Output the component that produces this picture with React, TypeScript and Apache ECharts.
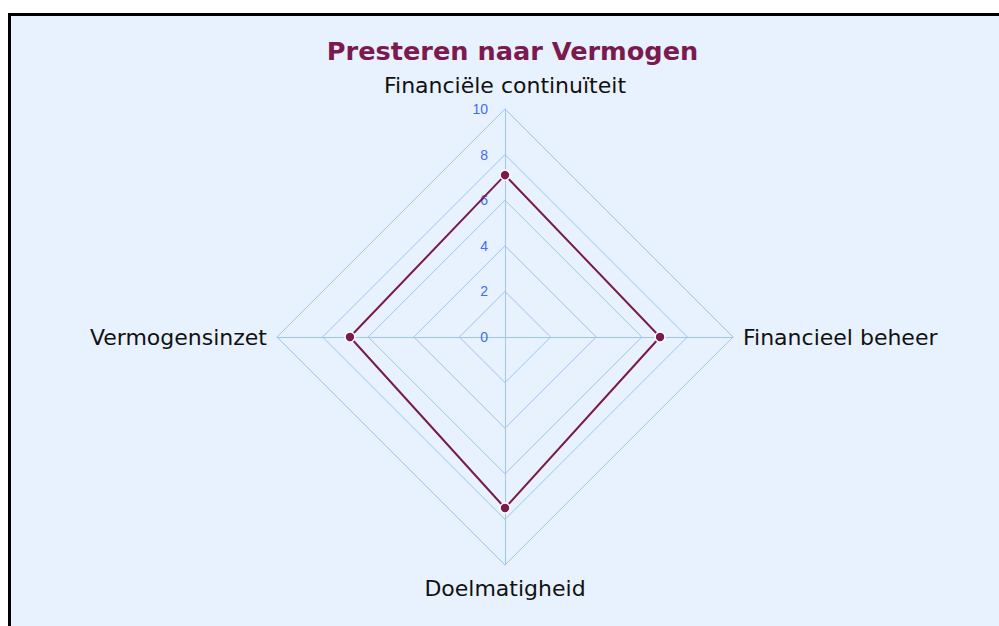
import React, { useEffect, useRef } from "react";
import * as echarts from "echarts";

const titleText = "Presteren naar Vermogen";
// Order: counter-clockwise from top (ECharts radar layout)
const indicatorNames = ["Financiële continuïteit", "Vermogensinzet", "Doelmatigheid", "Financieel beheer"];
const indicatorMax = [10, 10, 10, 10];
const seriesValues = [7.1, 6.8, 7.5, 6.8];

const MAROON = "#7a1a4e";
const GRID = "#9cc5f5";

export default function App() {
  const ref = useRef<HTMLDivElement>(null);
  useEffect(() => {
    if (!ref.current) return;
    const chart = echarts.init(ref.current, null, { renderer: "svg" });
    chart.setOption({
      animation: false,
      title: {
        text: titleText,
        left: "center",
        top: 33,
        textStyle: { color: MAROON, fontSize: 25.6, fontWeight: "bold", fontFamily: "DejaVu Sans" },
      },
      radar: {
        center: [505, 337],
        radius: 228,
        shape: "polygon",
        splitNumber: 5,
        nameGap: 10,
        axisName: { color: "#111", fontSize: 22, fontFamily: "DejaVu Sans" },
        indicator: indicatorNames.map((n, i) => ({
          name: n,
          max: indicatorMax[i],
          min: 0,
          nameGap: i % 2 === 0 ? (i === 0 ? 13 : 12) : 10,
          axisLabel: { show: i === 0 },
        })),
        axisLine: { lineStyle: { color: GRID, width: 1 } },
        splitLine: { lineStyle: { color: GRID, width: 1 } },
        splitArea: { show: false },
        axisTick: { show: false },
        axisLabel: { show: true, color: "#3f6cf2", fontSize: 14, fontFamily: "Liberation Sans", margin: 17 },
      },
      series: [
        {
          type: "radar",
          symbol: "circle",
          symbolSize: 10,
          lineStyle: { color: MAROON, width: 2 },
          itemStyle: { color: MAROON, borderColor: "#ffffff", borderWidth: 1.5 },
          data: [{ value: seriesValues, name: titleText }],
        },
      ],
    });
    return () => chart.dispose();
  }, []);
  return (
    <div style={{ position: "fixed", left: 0, top: 0, width: 999, height: 626, overflow: "hidden", background: "#fff" }}>
      <div
        style={{
          position: "absolute",
          left: 8,
          top: 13,
          width: 1100,
          height: 700,
          borderTop: "3px solid #000",
          borderLeft: "3px solid #000",
          background: "#e8f1fe",
          boxSizing: "border-box",
        }}
      />
      <div ref={ref} style={{ position: "absolute", left: 0, top: 0, width: 1025, height: 626 }} />
    </div>
  );
}
